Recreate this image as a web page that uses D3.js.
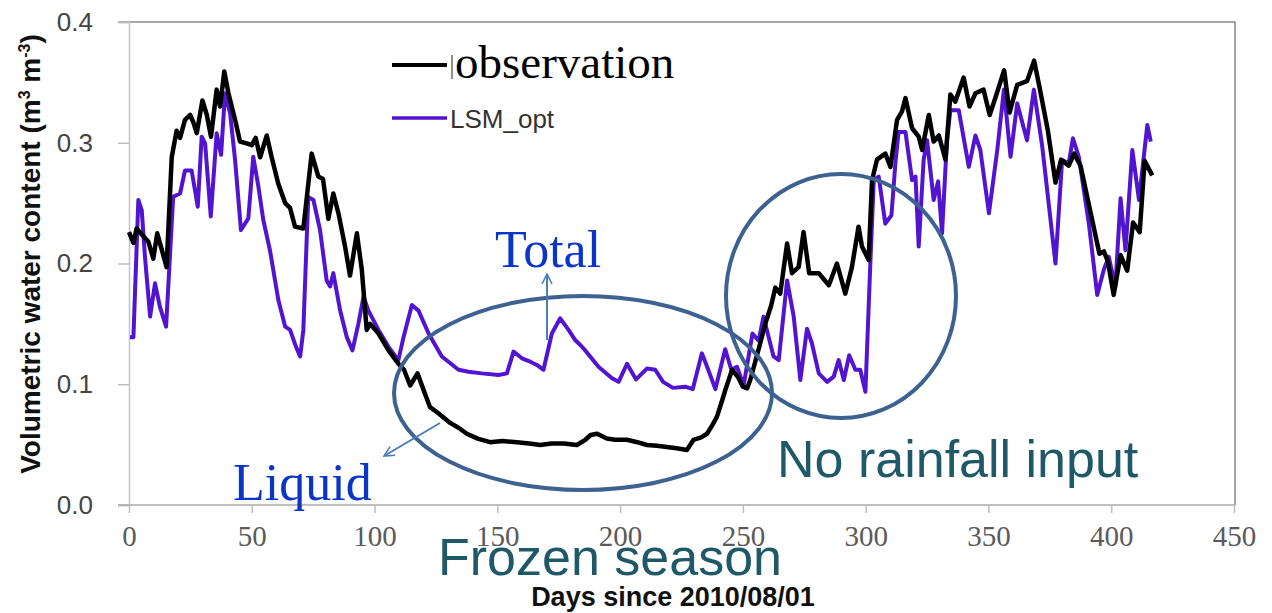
<!DOCTYPE html>
<html>
<head>
<meta charset="utf-8">
<script src="https://cdn.jsdelivr.net/npm/d3@7"></script>
<style>
  html, body { margin: 0; padding: 0; background: #fff; }
  svg { display: block; }
</style>
</head>
<body>
<svg width="1272" height="613"></svg>
<script>
(function (d3) {
  'use strict';

  // observation (black)
  const obsDays = [0, 1.8, 3.1, 5.2, 7.9, 9.9, 11.5, 13, 15.3, 17.4, 19.4, 20.8, 22.8, 24.9, 26.2, 27.6, 29.9, 31.7, 33.4, 35.7,
    37.1, 38.8, 40.5, 43.2, 45.2, 47.9, 50, 51.6, 53.4, 56.1, 58.1, 60.8, 63.6, 65.6, 67.6, 71, 74.4, 77.1, 79, 81.2,
    83.2, 85.3, 88, 90, 92.8, 94.8, 96.8, 98.2, 101.6, 105.7, 109.7, 112, 114.5, 117.5, 120, 122.6, 126, 130.8, 134.2, 137.6,
    142, 147, 152, 158, 163, 167.5, 172, 177, 182.4, 185.8, 188, 190.6, 194.6, 198, 202.8, 207, 210.9, 215, 219, 223,
    227.2, 229.9, 233, 235.4, 237.5, 239.4, 241, 242.8, 245.6, 248, 250, 251.7, 253, 256.4, 259.4, 261.5, 263.2, 265.2, 268, 270,
    272.7, 274.7, 277, 280.9, 285, 288.3, 291.7, 294.4, 297.1, 298.5, 301.2, 302.6, 304.6, 308, 310.1, 312.8, 314.8, 316.2, 318.9, 321.6,
    323, 325.7, 327.7, 329.8, 332.5, 334.5, 336.5, 339.9, 342.3, 344.7, 348, 350.5, 352.8, 356.4, 358.6, 361.7, 365.7, 368.6, 370.8, 374.2,
    377.3, 379.6, 382.7, 384.9, 387.5, 391.5, 395.2, 397, 398.6, 401, 403.8, 406.5, 408.9, 411.6, 413.6, 416.7];
  const obsValues = [0.226, 0.217, 0.229, 0.224, 0.218, 0.204, 0.225, 0.214, 0.197, 0.288, 0.31, 0.304, 0.319, 0.323, 0.317, 0.308, 0.335, 0.323, 0.305, 0.344,
    0.33, 0.359, 0.341, 0.319, 0.301, 0.2995, 0.298, 0.304, 0.288, 0.306, 0.288, 0.266, 0.25, 0.246, 0.2305, 0.229, 0.291, 0.272, 0.27, 0.237,
    0.258, 0.2415, 0.214, 0.19, 0.225, 0.195, 0.145, 0.15, 0.142, 0.128, 0.117, 0.112, 0.099, 0.109, 0.095, 0.081, 0.076, 0.068, 0.064, 0.059,
    0.055, 0.052, 0.053, 0.052, 0.051, 0.0497, 0.051, 0.051, 0.0497, 0.054, 0.058, 0.059, 0.055, 0.054, 0.054, 0.052, 0.0497, 0.049, 0.048, 0.047,
    0.0455, 0.054, 0.056, 0.059, 0.066, 0.073, 0.083, 0.095, 0.112, 0.106, 0.098, 0.0966, 0.1035, 0.129, 0.152, 0.165, 0.18, 0.175, 0.2165, 0.192,
    0.197, 0.226, 0.192, 0.192, 0.182, 0.2, 0.175, 0.197, 0.2305, 0.214, 0.203, 0.269, 0.286, 0.291, 0.28, 0.319, 0.326, 0.337, 0.312, 0.305,
    0.294, 0.323, 0.301, 0.306, 0.286, 0.34, 0.334, 0.354, 0.33, 0.341, 0.344, 0.323, 0.337, 0.36, 0.325, 0.348, 0.351, 0.368, 0.346, 0.31,
    0.267, 0.286, 0.281, 0.291, 0.281, 0.243, 0.208, 0.21, 0.202, 0.174, 0.207, 0.194, 0.234, 0.226, 0.285, 0.273];

  // LSM_opt (purple)
  const lsmDays = [0.4, 1.8, 3.8, 5.2, 6.5, 8.6, 10.6, 12.6, 15.1, 18, 20.8, 22.8, 25.5, 28, 29.6, 31, 33.3, 35.7, 37.5, 39.1,
    41.2, 43.2, 45.6, 48.6, 50.6, 52.7, 54.7, 57.4, 60.8, 63.6, 65.6, 68, 69.7, 71, 73, 75.1, 77.8, 80.5, 81.9, 83.2,
    86, 88.7, 91, 93.4, 95.5, 97.5, 101.6, 105.7, 109.7, 111.8, 115.2, 117.9, 122, 127.4, 134.2, 138.2, 143.7, 150.5, 153.9, 156.6,
    160, 163.4, 166.1, 168.8, 172.2, 175.6, 179, 181.7, 183.8, 185.8, 191.2, 196.7, 199.4, 202.8, 206.5, 210.9, 214.3, 217.5, 221.5, 226.5,
    229.6, 233.3, 235.7, 238.8, 242.8, 245.3, 247.6, 250.3, 253.9, 256.4, 258.4, 260.5, 262.5, 264.6, 268, 270.7, 273.4, 276.1, 278.1, 280.9,
    284.3, 287, 289, 291.1, 293.3, 295.8, 297.8, 299.9, 301.9, 303.3, 305.3, 308, 310.5, 312.1, 313.4, 316.2, 318.9, 320.3, 321.6, 323.6,
    325, 327.7, 329.5, 331.1, 333.1, 334.5, 337.9, 342, 344.7, 346.7, 350.2, 353.6, 356.3, 359, 361.7, 365.7, 368.5, 371.9, 377.3, 380,
    382.7, 384.4, 386.8, 390.9, 394.3, 397, 399, 401.7, 403.8, 405.8, 408.6, 411.3, 414.7, 416.1];
  const lsmValues = [0.139, 0.139, 0.2526, 0.244, 0.2056, 0.156, 0.1836, 0.164, 0.1477, 0.2553, 0.258, 0.277, 0.277, 0.247, 0.305, 0.2995, 0.239, 0.3078, 0.29, 0.341,
    0.324, 0.2857, 0.2277, 0.2374, 0.2884, 0.2636, 0.236, 0.211, 0.17, 0.1477, 0.145, 0.131, 0.123, 0.145, 0.255, 0.2526, 0.2277, 0.186, 0.181, 0.192,
    0.161, 0.139, 0.128, 0.15, 0.1725, 0.161, 0.145, 0.131, 0.12, 0.139, 0.1656, 0.161, 0.142, 0.123, 0.112, 0.1104, 0.109, 0.1077, 0.109, 0.127,
    0.1215, 0.1187, 0.116, 0.112, 0.142, 0.1546, 0.145, 0.1366, 0.1325, 0.128, 0.1145, 0.105, 0.102, 0.117, 0.104, 0.113, 0.112, 0.102, 0.097, 0.098,
    0.096, 0.1256, 0.113, 0.096, 0.129, 0.112, 0.1145, 0.099, 0.142, 0.136, 0.156, 0.139, 0.123, 0.12, 0.186, 0.156, 0.1035, 0.146, 0.134, 0.109,
    0.102, 0.1063, 0.12, 0.1035, 0.124, 0.112, 0.112, 0.0938, 0.2, 0.269, 0.272, 0.233, 0.24, 0.283, 0.309, 0.309, 0.269, 0.272, 0.214, 0.2857,
    0.302, 0.2526, 0.268, 0.225, 0.302, 0.327, 0.327, 0.28, 0.306, 0.294, 0.2416, 0.294, 0.344, 0.2884, 0.3326, 0.302, 0.344, 0.297, 0.2, 0.2857,
    0.283, 0.3037, 0.2884, 0.233, 0.174, 0.195, 0.2055, 0.181, 0.254, 0.211, 0.294, 0.2526, 0.3147, 0.301];

  const xTicks = [0, 50, 100, 150, 200, 250, 300, 350, 400, 450];
  const yTicks = [0, 0.1, 0.2, 0.3, 0.4];

  const svg = d3.select('svg');
  const left = 129, right = 1234, top = 22, bottom = 505;

  const x = d3.scaleLinear().domain([0, 450]).range([left, right]);
  const y = d3.scaleLinear().domain([0, 0.4]).range([bottom, top]);

  // frame (top and right)
  svg.append('path')
    .attr('d', `M${left - 11},${top}H${right + 1}V${bottom}`)
    .attr('fill', 'none')
    .attr('stroke', '#8a8a8a')
    .attr('stroke-width', 1.5);

  const yAxis = svg.append('g')
    .attr('transform', `translate(${left},0)`)
    .call(d3.axisLeft(y).tickValues(yTicks).tickFormat(d3.format('.1f')).tickSize(11).tickPadding(25));
  yAxis.select('.domain').attr('stroke', '#c4c4c4').attr('stroke-width', 1.5);
  yAxis.selectAll('.tick line').attr('stroke', '#bdbdbd').attr('stroke-width', 1.5);
  yAxis.selectAll('.tick text')
    .attr('font-family', 'Liberation Sans, Arial, sans-serif')
    .attr('font-size', 26)
    .attr('fill', '#444');

  const xAxis = svg.append('g')
    .attr('transform', `translate(0,${bottom})`)
    .call(d3.axisBottom(x).tickValues(xTicks).tickSize(8).tickPadding(12).tickSizeOuter(0));
  xAxis.select('.domain').attr('stroke', '#aaa').attr('stroke-width', 1.5)
    .attr('d', `M${left - 11},0H${right + 1}`);
  xAxis.selectAll('.tick line').attr('stroke', '#bdbdbd').attr('stroke-width', 1.5);
  xAxis.selectAll('.tick text')
    .attr('font-family', 'Liberation Serif, Times New Roman, serif')
    .attr('font-size', 29)
    .attr('fill', '#5a5a5a');

  // axis titles
  const yTitle = svg.append('text')
    .attr('transform', 'translate(40,254) rotate(-90)')
    .attr('text-anchor', 'middle')
    .attr('font-family', 'Liberation Sans, Arial, sans-serif')
    .attr('font-weight', 'bold')
    .attr('font-size', 28)
    .attr('fill', '#111');
  yTitle.append('tspan').text('Volumetric water content (m');
  yTitle.append('tspan').attr('font-size', 16).attr('dy', -10).text('3');
  yTitle.append('tspan').attr('dy', 10).text(' m');
  yTitle.append('tspan').attr('font-size', 16).attr('dy', -10).text('-3');
  yTitle.append('tspan').attr('dy', 10).text(')');

  svg.append('text')
    .attr('x', 673).attr('y', 606)
    .attr('text-anchor', 'middle')
    .attr('font-family', 'Liberation Sans, Arial, sans-serif')
    .attr('font-weight', 'bold')
    .attr('font-size', 27)
    .attr('fill', '#111')
    .text('Days since 2010/08/01');

  // series
  const line = d3.line().x(d => x(d[0])).y(d => y(d[1]));
  const series = [
    { name: 'LSM_opt', pts: d3.zip(lsmDays, lsmValues), color: '#5314d2', width: 4 },
    { name: 'observation', pts: d3.zip(obsDays, obsValues), color: '#000', width: 4.5 }
  ];
  svg.append('g').selectAll('path')
    .data(series)
    .enter().append('path')
      .attr('d', d => line(d.pts))
      .attr('fill', 'none')
      .attr('stroke', d => d.color)
      .attr('stroke-width', d => d.width)
      .attr('stroke-linejoin', 'round');

  // legend
  svg.append('line').attr('x1', 392).attr('x2', 447).attr('y1', 65).attr('y2', 65)
    .attr('stroke', '#000').attr('stroke-width', 4);
  svg.append('line').attr('x1', 452).attr('x2', 452).attr('y1', 55).attr('y2', 79)
    .attr('stroke', '#444').attr('stroke-width', 1.2);
  svg.append('text').attr('x', 455).attr('y', 78)
    .attr('font-family', 'Liberation Serif, Times New Roman, serif')
    .attr('font-size', 47).attr('fill', '#000')
    .text('observation');
  svg.append('line').attr('x1', 392).attr('x2', 447).attr('y1', 118).attr('y2', 118)
    .attr('stroke', '#5314d2').attr('stroke-width', 3.5);
  svg.append('text').attr('x', 450).attr('y', 128)
    .attr('font-family', 'Liberation Sans, Arial, sans-serif')
    .attr('font-size', 26).attr('fill', '#333')
    .text('LSM_opt');

  // annotations
  const ringColor = '#3d6190';
  svg.append('ellipse').attr('cx', 583).attr('cy', 393).attr('rx', 189).attr('ry', 97)
    .attr('fill', 'none').attr('stroke', ringColor).attr('stroke-width', 4);
  svg.append('ellipse').attr('cx', 841).attr('cy', 296).attr('rx', 115).attr('ry', 122)
    .attr('fill', 'none').attr('stroke', ringColor).attr('stroke-width', 4);

  svg.append('defs').append('marker')
    .attr('id', 'head')
    .attr('viewBox', '0 0 12 12')
    .attr('refX', 11).attr('refY', 6)
    .attr('markerWidth', 12).attr('markerHeight', 12)
    .attr('markerUnits', 'userSpaceOnUse')
    .attr('orient', 'auto')
    .append('path')
      .attr('d', 'M1,1L11,6L1,11')
      .attr('fill', 'none')
      .attr('stroke', '#4a7ebb')
      .attr('stroke-width', 1.6);

  svg.append('line').attr('x1', 547).attr('y1', 340).attr('x2', 547).attr('y2', 274)
    .attr('stroke', '#4a7ebb').attr('stroke-width', 2).attr('marker-end', 'url(#head)');
  svg.append('line').attr('x1', 440).attr('y1', 423).attr('x2', 384).attr('y2', 456)
    .attr('stroke', '#4a7ebb').attr('stroke-width', 2).attr('marker-end', 'url(#head)');

  const blue = '#0b35c6';
  svg.append('text').attr('x', 495).attr('y', 267)
    .attr('font-family', 'Liberation Serif, Times New Roman, serif')
    .attr('font-size', 52).attr('fill', blue).text('Total');
  svg.append('text').attr('x', 233).attr('y', 500)
    .attr('font-family', 'Liberation Serif, Times New Roman, serif')
    .attr('font-size', 52).attr('fill', blue).text('Liquid');

  const teal = '#1f5866';
  svg.append('text').attr('x', 438).attr('y', 575)
    .attr('font-family', 'Liberation Sans, Arial, sans-serif')
    .attr('font-size', 52).attr('fill', teal).text('Frozen season');
  svg.append('text').attr('x', 777).attr('y', 477)
    .attr('font-family', 'Liberation Sans, Arial, sans-serif')
    .attr('font-size', 52).attr('fill', teal).text('No rainfall input');

}(d3));
</script>
</body>
</html>
